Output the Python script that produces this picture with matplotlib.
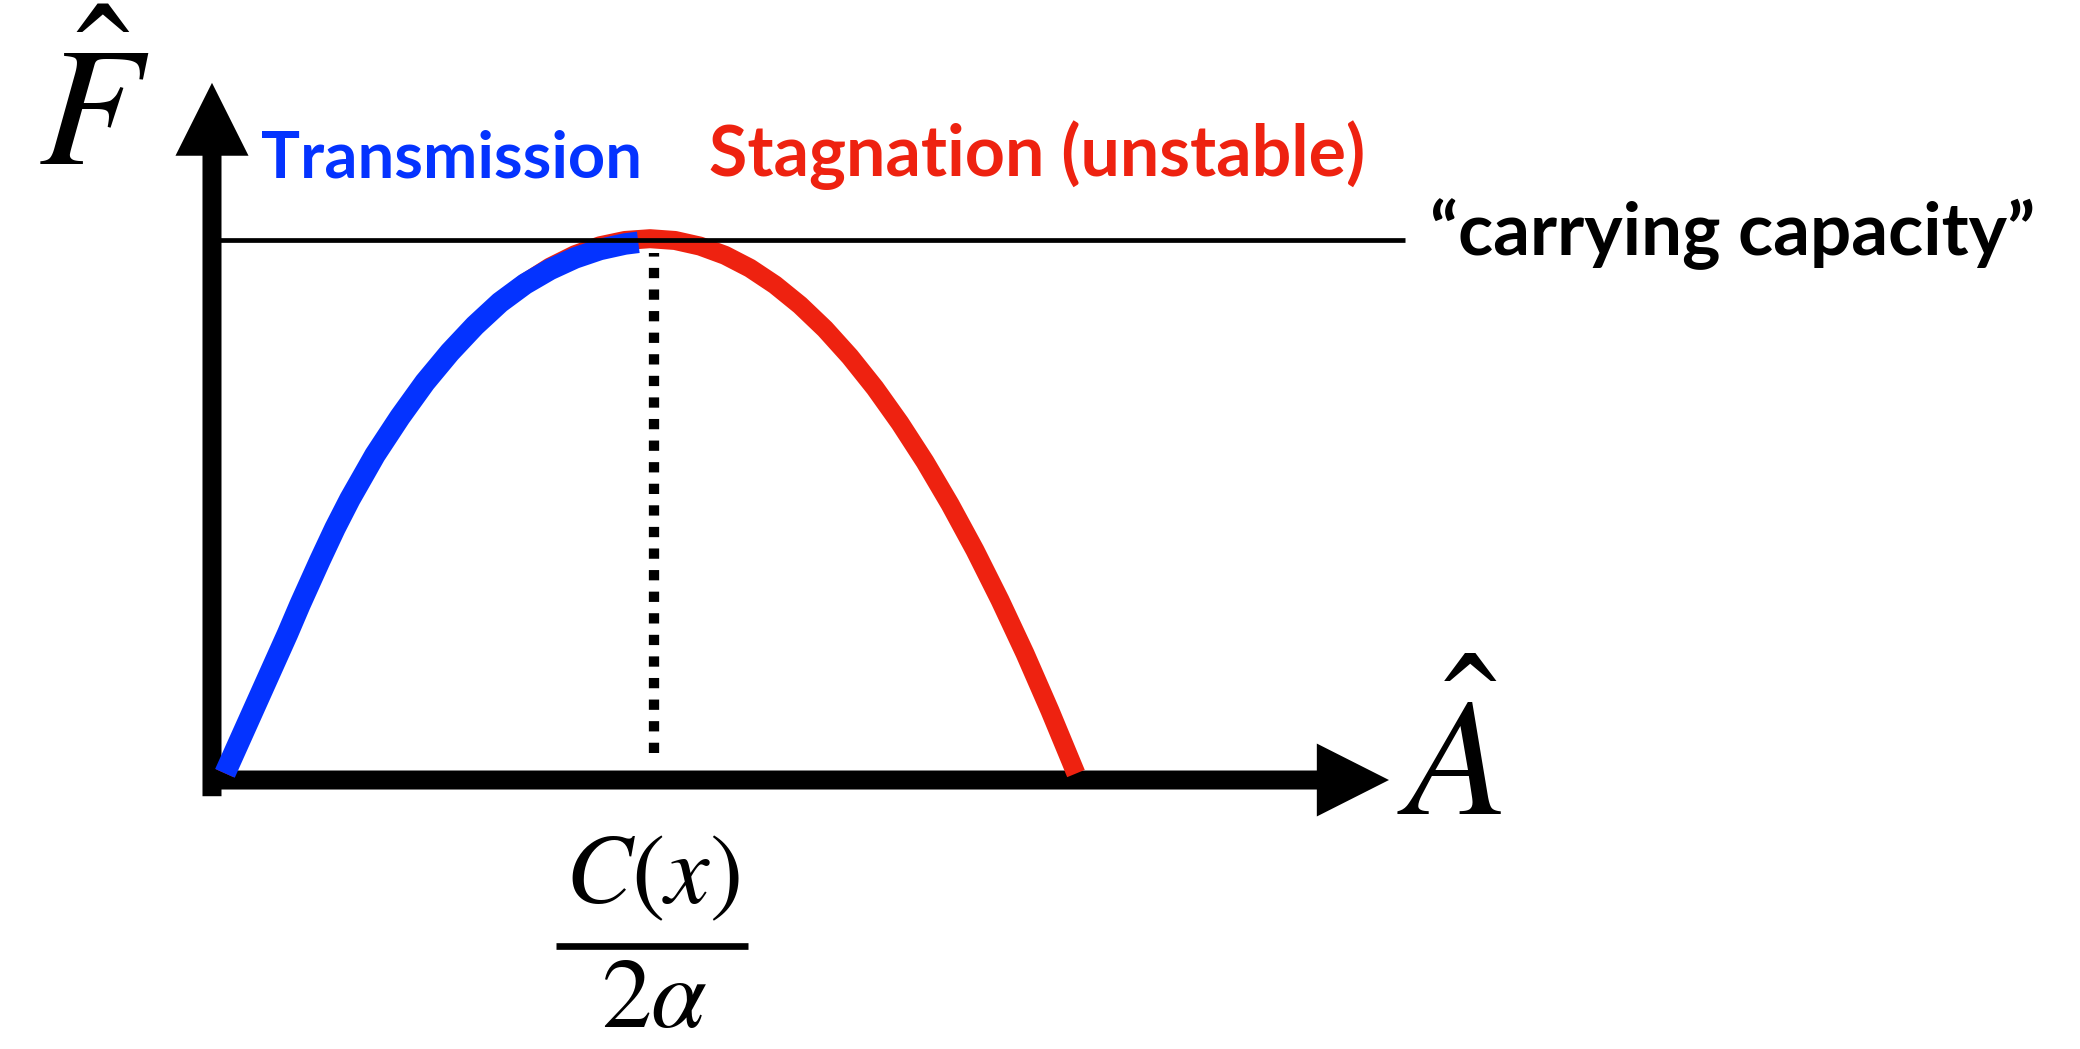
import numpy as np
import matplotlib
matplotlib.use('Agg')
import matplotlib.pyplot as plt

# curve (A = amplitude, F = flux), carrying capacity = 1
curve_A = [0.0295, 0.1716, 0.2000, 0.2455, 0.2795, 0.3136, 0.3477, 0.3705,
           0.4273, 0.4841, 0.5409, 0.5977, 0.6545, 0.7114, 0.7682, 0.8250,
           0.8818, 0.9386, 0.9955, 1.0523, 1.1091, 1.1659, 1.2227, 1.2795,
           1.3364, 1.3932, 1.4500, 1.5068, 1.5636, 1.6205, 1.6773, 1.7341,
           1.7909, 1.8477, 1.9045, 1.9636]
curve_F = [0.0124, 0.2706, 0.3248, 0.4070, 0.4661, 0.5204, 0.5692, 0.6019,
           0.6722, 0.7365, 0.7922, 0.8415, 0.8843, 0.9204, 0.9498, 0.9728,
           0.9893, 0.9991, 1.0024, 0.9991, 0.9887, 0.9717, 0.9478, 0.9170,
           0.8794, 0.8352, 0.7839, 0.7259, 0.6609, 0.5893, 0.5107, 0.4254,
           0.3331, 0.2343, 0.1283, 0.0120]

# blue "transmission" stroke, drawn over the rising half
blue_A = [0.0295, 0.1716, 0.2000, 0.2455, 0.2795, 0.3136, 0.3477, 0.3705,
          0.4273, 0.4841, 0.5409, 0.5977, 0.6545, 0.7114, 0.7682, 0.8250,
          0.8818, 0.9386, 0.9689]
blue_F = [0.0124, 0.2706, 0.3248, 0.4070, 0.4661, 0.5204, 0.5692, 0.6019,
          0.6722, 0.7365, 0.7922, 0.8415, 0.8843, 0.9185, 0.9454, 0.9667,
          0.9824, 0.9926, 0.9957]

carrying_capacity = 1.0
peak_A = 1.005               # C(x)/2alpha

label_transmission = 'Transmission'
label_stagnation = 'Stagnation (unstable)'
label_capacity = '\u201ccarrying capacity\u201d'
label_F = r'$\hat{F}$'
label_A = r'$\hat{A}$'
label_num = r'$C(x)$'
label_den = r'$2\alpha$'

RED = '#ee2210'
BLUE = '#0433ff'

plt.rcParams['mathtext.fontset'] = 'stix'

fig = plt.figure(figsize=(20.8, 10.49), dpi=100)
ax = fig.add_axes([0, 0, 1, 1])
ax.set_xlim(-0.4818, 4.2455)
ax.set_ylim(-0.4981, 1.4444)
ax.axis('off')

# axes with arrow heads
ax.arrow(-0.02, 0, 2.695, 0, width=0.0352, head_width=0.135, head_length=0.164,
         length_includes_head=True, color='black', lw=0, zorder=1)
ax.arrow(0, -0.03, 0, 1.321, width=0.0432, head_width=0.166, head_length=0.135,
         length_includes_head=True, color='black', lw=0, zorder=1)

# curves
ax.plot(curve_A, curve_F, color=RED, lw=13.7, solid_capstyle='butt',
        solid_joinstyle='round', zorder=2)
ax.plot(blue_A, blue_F, color=BLUE, lw=15.5, solid_capstyle='butt',
        solid_joinstyle='round', zorder=3)

# carrying capacity + peak marker
ax.plot([-0.02, 2.711], [carrying_capacity, carrying_capacity], color='black', lw=3.4,
        solid_capstyle='butt', zorder=4)
ax.plot([peak_A, peak_A], [0.05, 0.975], color='black', lw=7.4, dashes=(1.0, 1.1),
        dash_capstyle='butt', zorder=4)

renderer = fig.canvas.get_renderer()


def fit_text(x, y, s, width_px, **kw):
    t = ax.text(x, y, s, **kw)
    bb = t.get_window_extent(renderer)
    t.set_fontsize(t.get_fontsize() * width_px / bb.width)
    return t


fit_text(0.111, 1.115, label_transmission, 380, color=BLUE, fontsize=44,
         family='Lato', fontweight='bold', va='baseline', ha='left')
fit_text(1.130, 1.119, label_stagnation, 657, color=RED, fontsize=44,
         family='Lato', fontweight='bold', va='baseline', ha='left')
fit_text(2.768, 0.972, label_capacity, 606, color='black', fontsize=44,
         family='Lato', fontweight='bold', va='baseline', ha='left')

ax.text(-0.395, 1.139, label_F, fontsize=122, va='baseline', ha='left')
ax.text(2.693, -0.065, label_A, fontsize=121, va='baseline', ha='left')

# C(x) / 2alpha under the peak
ax.text(1.0, -0.228, label_num, fontsize=72, va='baseline', ha='center')
ax.plot([0.782, 1.218], [-0.307, -0.307], color='black', lw=4.8, solid_capstyle='butt')
ax.text(1.006, -0.458, label_den, fontsize=72, va='baseline', ha='center')

fig.savefig('out.png', dpi=100)
